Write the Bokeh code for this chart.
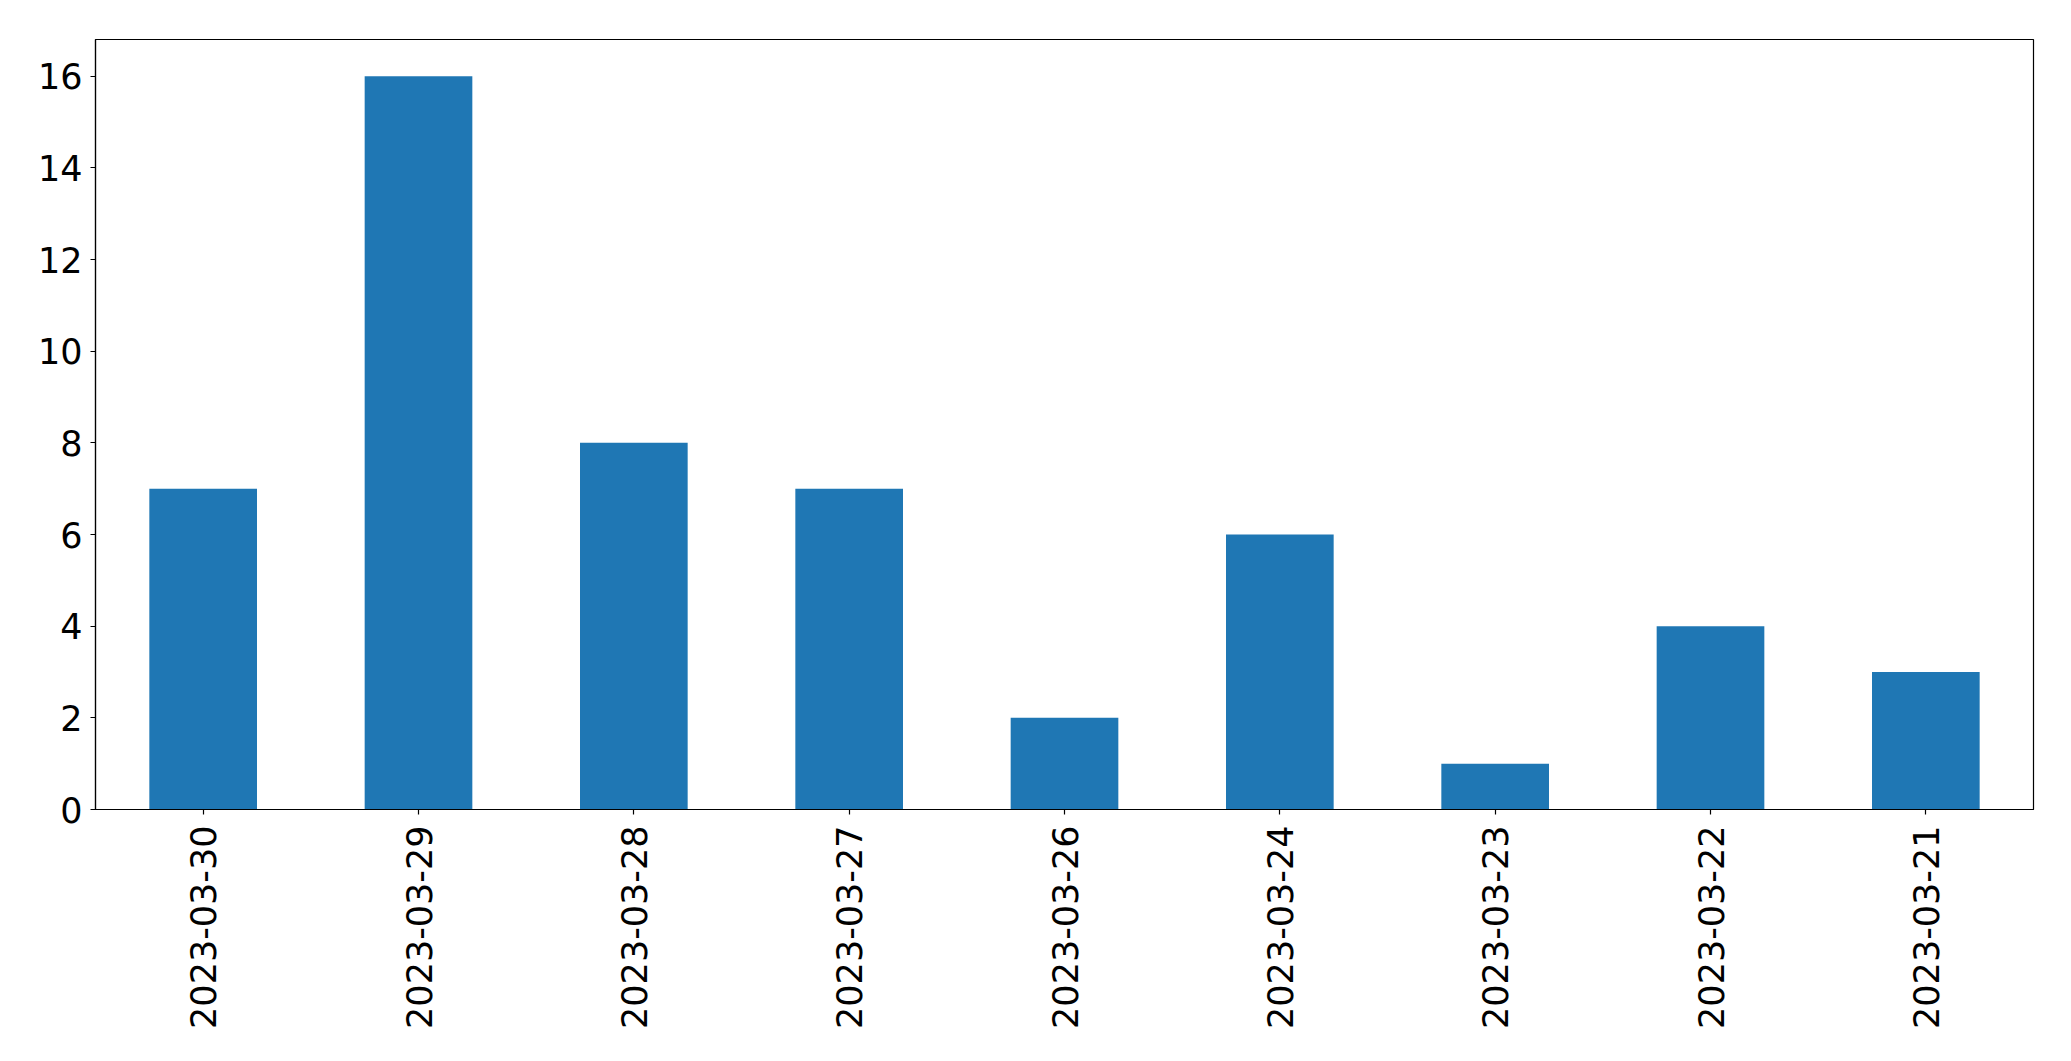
import math
from bokeh.plotting import figure
from bokeh.models import FactorRange, Range1d, FixedTicker, ColumnDataSource
from bokeh.embed import file_html
from bokeh.resources import INLINE

dates = ["2023-03-30", "2023-03-29", "2023-03-28", "2023-03-27", "2023-03-26",
         "2023-03-24", "2023-03-23", "2023-03-22", "2023-03-21"]
counts = [7, 16, 8, 7, 2, 6, 1, 4, 3]
y_ticks = [0, 2, 4, 6, 8, 10, 12, 14, 16]

source = ColumnDataSource(data=dict(date=dates, count=counts))

p = figure(x_range=FactorRange(*dates, range_padding=0),
           y_range=Range1d(0, 16.8),
           frame_width=1938, frame_height=770,
           output_backend="svg", toolbar_location=None,
           min_border_left=95, min_border_top=39, min_border_right=30,
           min_border_bottom=230)

p.vbar(x="date", top="count", width=0.5, source=source,
       fill_color="#1f77b4", line_color=None)

p.xgrid.visible = False
p.ygrid.visible = False
p.outline_line_color = "black"
p.outline_line_width = 1.2
p.outline_line_alpha = 1.0
p.background_fill_color = "white"
p.border_fill_color = "white"

for ax in (p.xaxis, p.yaxis):
    ax.major_label_text_font = "DejaVu Sans"
    ax.major_label_text_font_size = "35px"
    ax.major_label_text_color = "black"
    ax.axis_line_color = "black"
    ax.axis_line_width = 1.2
    ax.major_tick_line_color = "black"
    ax.major_tick_line_width = 1.2
    ax.major_tick_in = 0
    ax.major_tick_out = 5
    ax.minor_tick_line_color = None

p.yaxis.ticker = FixedTicker(ticks=y_ticks)
p.yaxis.major_label_standoff = 8
p.xaxis.major_label_orientation = math.pi / 2
p.xaxis.major_label_standoff = 11
p.xaxis.group_text_font_size = "0px"

open("out.html", "w").write(file_html(p, INLINE))
